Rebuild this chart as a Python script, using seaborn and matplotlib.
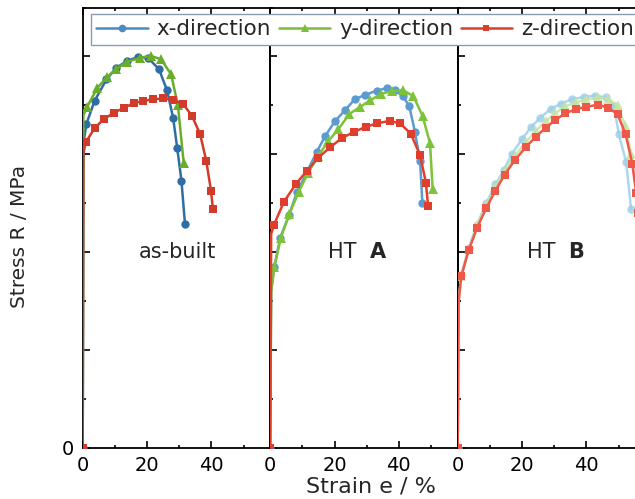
import matplotlib
matplotlib.use("Agg")
import matplotlib.pyplot as plt
from matplotlib.lines import Line2D
from matplotlib.ticker import MultipleLocator, FuncFormatter
import seaborn as sns
import pandas as pd

# ---- tensile curves: engineering strain (%) and stress (MPa) ----
# as-built
asb_x_strain = [0, 0.2, 1.1, 3.7, 7.4, 10.5, 13.9, 17.2, 20.3, 23.7, 26.2, 28.1, 29.4, 30.7, 31.8]
asb_x_stress = [0, 620, 661, 709, 753, 777, 791, 799, 797, 774, 731, 675, 612, 546, 457]
asb_y_strain = [0, 0.2, 1.4, 4.5, 7.5, 10.4, 13.7, 17.9, 21.2, 24.4, 27.5, 29.6, 31.4]
asb_y_stress = [0, 680, 697, 735, 757, 774, 789, 797, 801, 794, 763, 700, 582]
asb_z_strain = [0, 0.2, 0.9, 3.8, 6.6, 9.8, 12.9, 15.8, 18.7, 21.8, 24.9, 28.0, 31.2, 34.0, 36.5, 38.4, 39.9, 40.5]
asb_z_stress = [0, 600, 624, 654, 672, 685, 695, 704, 709, 712, 714, 711, 703, 678, 641, 587, 525, 487]

# heat treatment A
hta_x_strain = [0, 0.3, 1.3, 3.1, 5.9, 8.3, 11.3, 14.5, 17.1, 20.2, 23.3, 26.4, 29.5, 33.1, 36.3, 38.8, 41.2, 43.2, 45.0, 46.6, 47.3]
hta_x_stress = [0, 320, 370, 429, 476, 522, 562, 605, 637, 668, 690, 713, 721, 730, 735, 731, 719, 699, 646, 587, 501]
hta_y_strain = [0, 0.3, 1.3, 3.3, 6.0, 8.8, 11.8, 15.0, 18.1, 21.2, 24.6, 28.0, 31.1, 34.4, 37.8, 41.2, 44.5, 47.4, 49.7, 50.5]
hta_y_stress = [0, 320, 369, 429, 478, 522, 562, 597, 627, 651, 682, 697, 710, 723, 729, 731, 719, 678, 622, 529]
hta_z_strain = [0, 0.3, 1.2, 4.3, 8.0, 11.4, 15.0, 18.6, 22.3, 26.2, 29.8, 33.2, 37.1, 40.4, 43.7, 46.6, 48.4, 49.1]
hta_z_stress = [0, 437, 456, 503, 539, 566, 593, 614, 633, 646, 656, 663, 668, 663, 642, 598, 542, 493]

# heat treatment B
htb_x_strain = [0, 0.3, 1.1, 3.4, 6.0, 8.9, 11.7, 14.3, 16.9, 20.0, 22.8, 25.7, 28.9, 32.0, 35.4, 39.3, 42.7, 46.0, 48.6, 50.1, 52.4, 53.9]
htb_x_stress = [0, 300, 352, 408, 456, 500, 538, 567, 601, 631, 655, 675, 692, 703, 712, 717, 720, 716, 699, 641, 583, 488]
htb_y_strain = [0, 0.3, 1.1, 3.4, 6.0, 8.9, 11.7, 14.6, 17.8, 21.1, 24.2, 27.3, 30.4, 33.5, 36.9, 40.0, 43.6, 46.8, 49.7, 52.0, 54.0, 55.6]
htb_y_stress = [0, 300, 351, 406, 453, 496, 533, 565, 597, 624, 647, 667, 684, 698, 706, 712, 716, 713, 700, 660, 600, 530]
htb_z_strain = [0, 0.3, 1.1, 3.4, 6.0, 8.9, 11.7, 14.6, 17.8, 21.1, 24.2, 27.3, 30.4, 33.5, 36.9, 40.0, 43.6, 46.8, 49.7, 52.2, 54.3, 55.5, 56.2]
htb_z_stress = [0, 300, 350, 403, 449, 490, 525, 558, 588, 614, 635, 654, 670, 684, 692, 697, 701, 695, 682, 641, 580, 520, 480]

directions = ["x-direction", "y-direction", "z-direction"]

sns.set_style("ticks")
plt.rcParams["font.family"] = ["DejaVu Sans"]

fig = plt.figure(figsize=(6.35, 4.99), dpi=100)

W = 187.5 / 635
B = 1 - 447.5 / 499
H = 440 / 499
lefts = [82.7 / 635, 270.2 / 635, 457.7 / 635]
axes = [fig.add_axes([l, B, W, H]) for l in lefts]

markers = {"x-direction": "o", "y-direction": "^", "z-direction": "s"}
msizes = {"x-direction": 6.0, "y-direction": 6.5, "z-direction": 5.5}

panels = [
    [(asb_x_strain, asb_x_stress, "#2f6ea5", 1.0),
     (asb_y_strain, asb_y_stress, "#6aad2b", 1.0),
     (asb_z_strain, asb_z_stress, "#d23a29", 1.0)],
    [(hta_x_strain, hta_x_stress, "#5b9bd2", 1.0),
     (hta_y_strain, hta_y_stress, "#7cc23a", 1.0),
     (hta_z_strain, hta_z_stress, "#e03e2c", 1.0)],
    [(htb_x_strain, htb_x_stress, "#9fd0e8", 0.85),
     (htb_y_strain, htb_y_stress, "#c4e3a2", 0.85),
     (htb_z_strain, htb_z_stress, "#ee5848", 1.0)],
]

for ax, series in zip(axes, panels):
    for name, (e, s, col, a) in zip(directions, series):
        df = pd.DataFrame({"strain": e, "stress": s})
        # the knee of the elastic line carries no marker
        mk = [0] + list(range(2, len(e)))
        sns.lineplot(data=df, x="strain", y="stress", ax=ax, sort=False,
                     estimator=None, color=col, alpha=a, linewidth=1.8,
                     marker=markers[name], markersize=msizes[name],
                     markeredgewidth=0, markevery=mk, zorder=3)
    ax.set_xlim(0, 58.3)
    ax.set_ylim(0, 900)
    ax.set_xlabel("")
    ax.set_ylabel("")
    ax.xaxis.set_major_locator(MultipleLocator(20))
    ax.xaxis.set_minor_locator(MultipleLocator(10))
    ax.yaxis.set_major_locator(MultipleLocator(200))
    ax.yaxis.set_minor_locator(MultipleLocator(100))
    ax.tick_params(which="both", direction="in", top=True, right=False,
                   width=1.2, colors="black", labelsize=14, pad=6)
    ax.tick_params(which="major", length=5)
    ax.tick_params(which="minor", length=2.5)
    for sp in ax.spines.values():
        sp.set_linewidth(1.3)
        sp.set_color("black")
    ax.patch.set_alpha(0)

axes[0].yaxis.set_major_formatter(FuncFormatter(lambda v, p: "0" if v == 0 else ""))
for ax in axes[1:]:
    ax.set_yticklabels([])

# panel annotations
axes[0].text(29.4, 400, "as-built", ha="center", va="center", fontsize=15)
axes[1].text(22.5, 400, "HT", ha="center", va="center", fontsize=15)
axes[1].text(33.5, 400, "A", ha="center", va="center", fontsize=15, fontweight="bold")
axes[2].text(26.1, 400, "HT", ha="center", va="center", fontsize=15)
axes[2].text(36.8, 400, "B", ha="center", va="center", fontsize=15, fontweight="bold")

fig.text(371 / 635, 0.026, "Strain e / %", ha="center", va="center", fontsize=16)
fig.text(19.5 / 635, 0.527, "Stress R / MPa", ha="center", va="center",
         rotation=90, fontsize=14.5)

legend_colors = ["#4a8bc2", "#79bd38", "#d83f2d"]
handles = [Line2D([], [], color=c, linewidth=1.8, marker=markers[n],
                  markersize=msizes[n] - 0.5, markeredgewidth=0)
           for c, n in zip(legend_colors, directions)]
leg = fig.legend(handles, directions, loc="upper left",
                 bbox_to_anchor=(91 / 635, 1 - 14 / 499), ncol=3,
                 frameon=True, fancybox=False, fontsize=15.5,
                 handlelength=2.4, handletextpad=0.4, columnspacing=0.35,
                 borderpad=0.25, borderaxespad=0)
leg.get_frame().set_edgecolor("#8a9bb0")
leg.get_frame().set_linewidth(1.0)
leg.get_frame().set_facecolor("white")
leg.get_frame().set_alpha(1)

fig.savefig("out.png", dpi=100)
